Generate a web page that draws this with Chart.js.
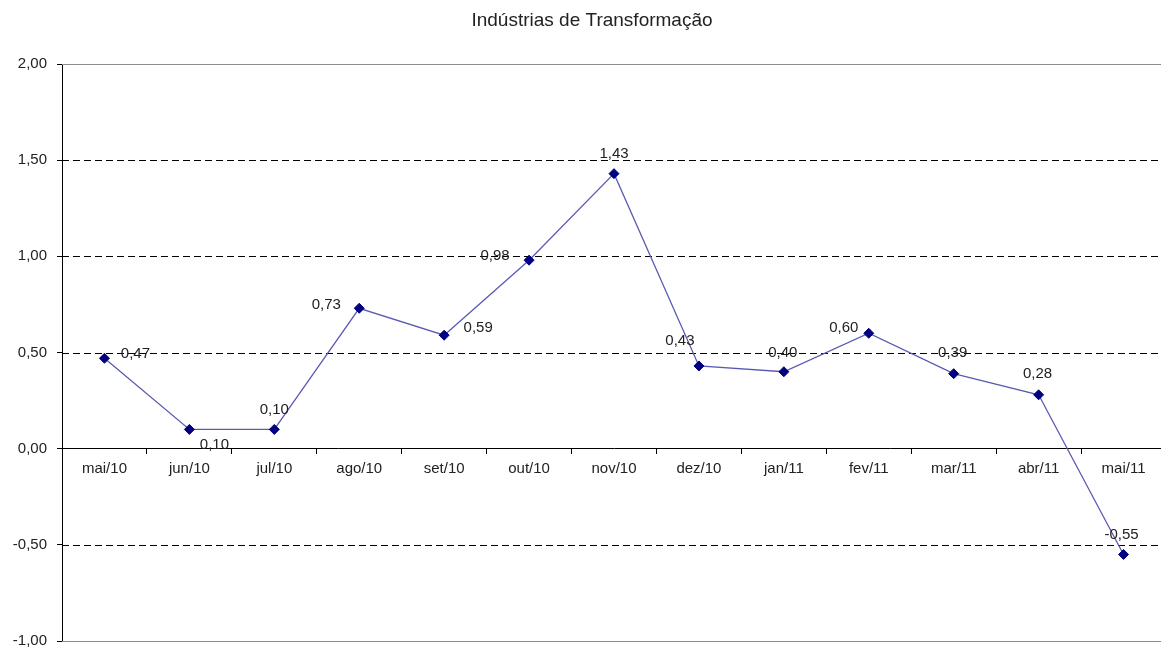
<!DOCTYPE html>
<html lang="pt-BR">
<head>
<meta charset="utf-8">
<title>Indústrias de Transformação</title>
<script src="https://cdn.jsdelivr.net/npm/chart.js@4/dist/chart.umd.min.js"></script>
<style>
    body { margin: 0; background: #fff; overflow: hidden; }
    #grafico { display: block; }
</style>
</head>
<body>
<canvas id="grafico" width="1172" height="660"></canvas>
<script>
// dados do grafico
const meses = ['mai/10', 'jun/10', 'jul/10', 'ago/10', 'set/10', 'out/10', 'nov/10',
    'dez/10', 'jan/11', 'fev/11', 'mar/11', 'abr/11', 'mai/11']
const variacao = [0.47, 0.10, 0.10, 0.73, 0.59, 0.98, 1.43, 0.43, 0.40, 0.60, 0.39, 0.28, -0.55]
const valoresEixoY = [-1, -0.5, 0, 0.5, 1, 1.5, 2]
const titulo = 'Indústrias de Transformação'

const FONTE = 'Arial, "Liberation Sans", sans-serif'
const COR_TEXTO = '#222'

// formato brasileiro: virgula como separador decimal
function fmt(v) {
    return v.toFixed(2).replace('.', ',')
}

document.addEventListener('DOMContentLoaded', function () {
    // desloca cada rotulo em relacao ao seu ponto (dx, dy)
    const deslocRotulo = [[31, -4], [25, 15], [0, -20], [-33, -3], [34, -7], [-34, -4], [0, -20],
        [-19, -25], [-1, -19], [-25, -5], [-1, -21], [-1, -21], [-2, -20]]

    // linhas horizontais: tracejadas no meio, cinza nos extremos
    const linhasGrade = {
        id: 'linhasGrade',
        beforeDatasetsDraw(chart) {
            const ctx = chart.ctx, area = chart.chartArea, y = chart.scales.y
            ctx.save()
            valoresEixoY.forEach(function (v) {
                if (v === 0) return
                const py = Math.round(y.getPixelForValue(v)) + 0.5
                const extremo = v === y.min || v === y.max
                ctx.beginPath()
                ctx.lineWidth = 1
                ctx.strokeStyle = extremo ? '#8c8c8c' : '#000'
                ctx.setLineDash(extremo ? [] : [7, 4])
                ctx.moveTo(area.left, py)
                ctx.lineTo(area.right, py)
                ctx.stroke()
            })
            ctx.restore()
        }
    }

    // rotulos de valor e titulo
    const rotulos = {
        id: 'rotulos',
        afterDatasetsDraw(chart) {
            const ctx = chart.ctx
            const meta = chart.getDatasetMeta(0)
            ctx.save()
            ctx.font = '15px ' + FONTE
            ctx.fillStyle = COR_TEXTO
            ctx.textAlign = 'center'
            ctx.textBaseline = 'middle'
            meta.data.forEach(function (pt, i) {
                const d = deslocRotulo[i]
                ctx.fillText(fmt(variacao[i]), pt.x + d[0], pt.y + d[1])
            })
            ctx.font = '19px ' + FONTE
            ctx.fillText(titulo, 592, 21)
            ctx.restore()
        }
    }

    new Chart(document.getElementById('grafico'), {
        type: 'line',
        data: {
            labels: meses,
            datasets: [{
                data: variacao,
                borderColor: '#5a5ab4',
                borderWidth: 1.3,
                pointStyle: 'rectRot',
                pointRadius: 5,
                pointBackgroundColor: '#000080',
                pointBorderColor: '#000080',
                pointBorderWidth: 1,
                tension: 0
            }]
        },
        options: {
            responsive: false,
            animation: false,
            events: [],
            layout: { padding: { top: 64, right: 2, bottom: 0, left: 0 } },
            plugins: {
                legend: { display: false },
                title: { display: false },
                tooltip: { enabled: false }
            },
            scales: {
                x: {
                    type: 'category',
                    position: { y: 0 },
                    offset: true,
                    grid: {
                        offset: true,
                        drawOnChartArea: false,
                        drawTicks: true,
                        tickLength: 5,
                        color: '#000'
                    },
                    border: { color: '#000', width: 1 },
                    ticks: {
                        color: COR_TEXTO,
                        font: { family: FONTE, size: 15 },
                        padding: 6,
                        maxRotation: 0,
                        autoSkip: false
                    }
                },
                y: {
                    min: -1,
                    max: 2,
                    afterBuildTicks: function (s) {
                        s.ticks = valoresEixoY.map(function (v) { return { value: v } })
                    },
                    afterFit: function (s) { s.width = 62 },
                    grid: {
                        drawOnChartArea: false,
                        drawTicks: true,
                        tickLength: 5,
                        color: '#000'
                    },
                    border: { color: '#000', width: 1 },
                    ticks: {
                        color: COR_TEXTO,
                        font: { family: FONTE, size: 15 },
                        padding: 10,
                        callback: function (v) { return fmt(v) }
                    }
                }
            }
        },
        plugins: [linhasGrade, rotulos]
    })
})
</script>
</body>
</html>
